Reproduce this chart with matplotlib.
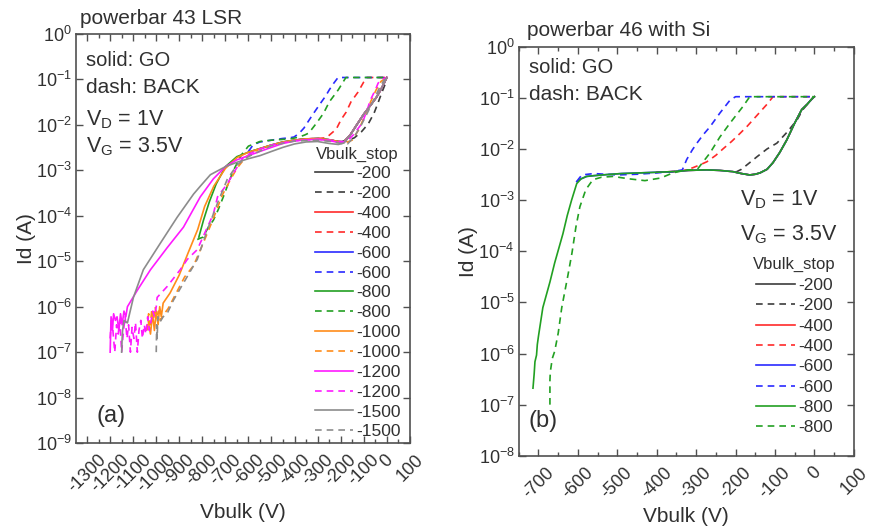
import numpy as np
import matplotlib
matplotlib.use('Agg')
import matplotlib.pyplot as plt
from matplotlib.ticker import MultipleLocator, NullLocator, LogLocator

plt.rcParams['font.family'] = ['Liberation Sans', 'DejaVu Sans']
plt.rcParams['axes.unicode_minus'] = False

# ---------------- colours -----------------
c_blk = '#3c3c3c'
c_red = '#ff2a2a'
c_blu = '#2a2aff'
c_grn = '#22a022'
c_org = '#ff8c1a'
c_mag = '#ff1aff'
c_gry = '#8c8c8c'

# ================= panel (a): powerbar 43 LSR =================
a_blk_go_v = [0, -10, -25, -45, -70, -100, -130, -160, -185, -200]
a_blk_go_i = [0.11, 0.085, 0.06, 0.04, 0.027, 0.017, 0.01, 0.0058, 0.0044, 0.0042]
a_blk_bk_v = [-200, -170, -140, -110, -80, -55, -38, -22, -8, 0]
a_blk_bk_i = [0.0042, 0.0045, 0.0052, 0.007, 0.0105, 0.018, 0.03, 0.05, 0.075, 0.11]

a_red_go_v = [0, -10, -25, -45, -70, -100, -130, -160, -185, -210, -250, -300, -350, -400]
a_red_go_i = [0.11, 0.085, 0.06, 0.04, 0.027, 0.017, 0.01, 0.0058, 0.0042, 0.0043, 0.0047, 0.005, 0.0049, 0.0046]
a_red_bk_v = [-400, -350, -300, -262, -240, -219, -198, -176, -155, -125, -100, -85, 0]
a_red_bk_i = [0.0046, 0.0049, 0.005, 0.0052, 0.0065, 0.008, 0.013, 0.019, 0.032, 0.052, 0.087, 0.11, 0.11]

a_blu_go_v = [0, -10, -25, -45, -70, -100, -130, -160, -185, -210, -250, -300, -350, -400, -450, -500, -550, -600]
a_blu_go_i = [0.11, 0.085, 0.06, 0.04, 0.027, 0.017, 0.01, 0.0058, 0.0042, 0.0043, 0.0047, 0.005, 0.0049, 0.0046, 0.0042, 0.0036, 0.003, 0.0025]
a_blu_bk_v = [-600, -580, -550, -500, -453, -420, -402, -380, -359, -340, -317, -300, -283, -265, -249, -230, -211, -100, 0]
a_blu_bk_i = [0.0026, 0.0036, 0.0042, 0.0046, 0.005, 0.0052, 0.0054, 0.0065, 0.0085, 0.012, 0.018, 0.024, 0.032, 0.043, 0.059, 0.082, 0.11, 0.11, 0.11]

a_grn_go_v = [0, -10, -25, -45, -70, -100, -130, -160, -185, -210, -250, -300, -350, -400, -450, -500, -550, -600, -650, -700, -740, -770, -795, -815]
a_grn_go_i = [0.11, 0.085, 0.06, 0.04, 0.027, 0.017, 0.01, 0.0058, 0.0042, 0.0043, 0.0047, 0.005, 0.0049, 0.0046, 0.0042, 0.0036, 0.003, 0.0025, 0.002, 0.0012, 5e-4, 2e-4, 8e-5, 3.4e-5]
a_grn_bk_v = [-822, -810, -796, -775, -752, -730, -709, -685, -665, -630, -600, -550, -500, -450, -410, -380, -355, -338, -304, -274, -249, -210, -177, -100, 0]
a_grn_bk_i = [3e-5, 3.2e-5, 3.4e-5, 5.5e-5, 8e-5, 1.4e-4, 2.6e-4, 5.5e-4, 1e-3, 2.2e-3, 3.4e-3, 4.3e-3, 4.6e-3, 4.8e-3, 5e-3, 5.4e-3, 6e-3, 6.6e-3, 0.011, 0.018, 0.032, 0.059, 0.11, 0.11, 0.11]

a_org_go_v = [0, -10, -25, -45, -70, -100, -130, -160, -185, -210, -250, -300, -350, -400, -450, -500, -550, -600, -650, -700, -750, -790, -820, -860, -900, -940, -970,
              -978, -985, -992, -1000, -1008, -1016, -1025, -1035]
a_org_go_i = [0.11, 0.085, 0.06, 0.04, 0.027, 0.017, 0.01, 0.0058, 0.0042, 0.0043, 0.0047, 0.005, 0.0049, 0.0046, 0.0042, 0.0036, 0.003, 0.0025, 0.0019, 0.0011, 4.5e-4, 1.6e-4, 5e-5, 1.6e-5, 5e-6, 2e-6, 1.2e-6,
              6e-7, 1e-6, 4e-7, 8e-7, 3e-7, 7e-7, 2.5e-7, 5e-7]
a_org_bk_v = [-1040, -1033, -1026, -1019, -1012, -1005, -998, -990, -982, -965, -949, -918, -877, -838, -796, -755, -714, -680, -650, -610, -560, -500, -450, -400, -350,
              -300, -250, -210, -180, -150, -120, -95, -70, -45, -25, 0]
a_org_bk_i = [3e-7, 7e-7, 4e-7, 9e-7, 5e-7, 1e-6, 6e-7, 8e-7, 5e-7, 7e-7, 9e-7, 1.8e-6, 4.5e-6, 8e-6, 2.5e-5, 8e-5, 2.8e-4, 6e-4, 1.1e-3, 2e-3, 2.8e-3, 3.5e-3, 4e-3, 4.5e-3, 4.8e-3,
              4.9e-3, 4.6e-3, 4.2e-3, 4e-3, 4.6e-3, 8e-3, 0.016, 0.032, 0.06, 0.09, 0.11]

a_mag_go_v = [0, -10, -25, -45, -70, -100, -130, -160, -185, -210, -250, -300, -350, -400, -450, -500, -550, -600, -650, -700, -752, -809, -882, -952, -1025, -1082, -1125,
              -1132, -1140, -1148, -1155, -1162, -1170, -1177, -1185, -1190, -1196, -1200]
a_mag_go_i = [0.11, 0.085, 0.06, 0.04, 0.027, 0.017, 0.01, 0.0058, 0.0041, 0.0041, 0.0045, 0.0048, 0.0047, 0.0044, 0.0039, 0.0032, 0.0026, 0.0021, 0.0017, 0.0012, 6.5e-4, 2.6e-4, 5.6e-5, 2e-5, 6.5e-6, 2.3e-6, 1e-6,
              6e-7, 8e-7, 4e-7, 7e-7, 3e-7, 6e-7, 5e-7, 7e-7, 3e-7, 6e-7, 1e-7]
a_mag_bk_v = [-1200, -1194, -1188, -1180, -1172, -1165, -1158, -1150, -1142, -1135, -1127, -1120, -1112, -1105, -1097, -1090, -1082, -1075, -1067, -1060, -1052, -1045,
              -1037, -1030, -1022, -1015, -1008, -1000, -996, -952, -896, -865, -822, -778, -752, -734, -692, -665, -620, -560, -500, -400, -300, -250, -200, -175,
              -145, -106, -85, -71, -49, -37, -20, 0]
a_mag_bk_i = [2e-7, 6e-7, 3e-7, 1e-7, 4e-7, 2.5e-7, 5e-7, 1e-7, 3e-7, 6e-7, 2e-7, 4e-7, 1e-7, 3.5e-7, 2e-7, 4.5e-7, 1e-7, 3e-7, 5e-7, 2e-7, 4e-7, 2.5e-7,
              6e-7, 3e-7, 5e-7, 8e-7, 6e-7, 1e-6, 1.6e-6, 2.8e-6, 6.5e-6, 1.1e-5, 1.8e-5, 5.6e-5, 1.1e-4, 2.6e-4, 5e-4, 8.7e-4, 2e-3, 2.8e-3, 3.6e-3, 4.5e-3, 4.8e-3, 4.6e-3, 4.3e-3, 4.2e-3,
              6e-3, 0.011, 0.021, 0.035, 0.059, 0.083, 0.1, 0.11]

a_gry_go_v = [0, -10, -25, -45, -70, -100, -130, -160, -185, -210, -250, -300, -350, -400, -450, -500, -550, -600, -650, -700, -765, -810, -838, -909, -982, -1056, -1099, -1125,
              -1140, -1146, -1148, -1150]
a_gry_go_i = [0.11, 0.085, 0.06, 0.04, 0.027, 0.017, 0.01, 0.0058, 0.004, 0.0037, 0.0039, 0.0043, 0.0042, 0.0038, 0.0032, 0.0026, 0.0021, 0.0018, 0.0015, 0.0012, 8e-4, 4.4e-4, 3e-4, 9.3e-5, 2.5e-5, 6.5e-6, 1.6e-6, 4.4e-7,
              5e-7, 3e-7, 2e-7, 1e-7]
a_gry_bk_v = [-1000, -998, -996, -993, -985, -970, -952, -925, -882, -822, -778, -734, -692, -650, -600, -500, -400, -300, -240, -200, -170, -140, -110, -80, -55, -35, -15, 0]
a_gry_bk_i = [1e-7, 4e-7, 2e-7, 6e-7, 4.5e-7, 6e-7, 7.2e-7, 1.4e-6, 3.3e-6, 1.1e-5, 4.9e-5, 1.9e-4, 6.3e-4, 1.3e-3, 2e-3, 3.5e-3, 4.4e-3, 4.6e-3, 4.3e-3, 3.9e-3, 3.8e-3, 5.5e-3, 0.01, 0.02, 0.036, 0.06, 0.09, 0.11]

a_stops = ['-200', '-400', '-600', '-800', '-1000', '-1200', '-1500']
a_xticks = [-1300, -1200, -1100, -1000, -900, -800, -700, -600, -500, -400, -300, -200, -100, 0, 100]

# ================= panel (b): powerbar 46 with Si =================
b_blk_go_v = [0, -4, -18, -32, -50, -70, -88, -105, -120, -138, -150, -164, -185, -200]
b_blk_go_i = [0.105, 0.1, 0.075, 0.059, 0.032, 0.015, 0.0085, 0.0054, 0.004, 0.0034, 0.0032, 0.0031, 0.0033, 0.0035]
b_blk_bk_v = [-200, -185, -164, -146, -120, -95, -70, -44, -29, -15, 0]
b_blk_bk_i = [0.0035, 0.004, 0.0054, 0.007, 0.01, 0.013, 0.021, 0.037, 0.059, 0.08, 0.105]

b_red_go_v = [0, -4, -18, -32, -50, -70, -88, -105, -120, -138, -150, -164, -185, -207, -240, -273, -320, -359, -400]
b_red_go_i = [0.105, 0.1, 0.075, 0.059, 0.032, 0.015, 0.0085, 0.0054, 0.004, 0.0034, 0.0032, 0.0031, 0.0033, 0.0036, 0.0038, 0.0039, 0.0038, 0.0036, 0.0035]
b_red_bk_v = [-400, -359, -330, -308, -290, -273, -250, -232, -210, -189, -170, -146, -120, -105, 0]
b_red_bk_i = [0.0035, 0.0036, 0.0038, 0.0043, 0.0049, 0.0056, 0.0075, 0.01, 0.014, 0.02, 0.028, 0.045, 0.075, 0.105, 0.105]

b_blu_go_v = [0, -4, -18, -32, -50, -70, -88, -105, -120, -138, -150, -164, -185, -207, -240, -273, -320, -359, -400, -443, -490, -527, -560, -578, -592, -603]
b_blu_go_i = [0.105, 0.1, 0.075, 0.059, 0.032, 0.015, 0.0085, 0.0054, 0.004, 0.0034, 0.0032, 0.0031, 0.0033, 0.0036, 0.0038, 0.0039, 0.0038, 0.0036, 0.0035,
              0.0034, 0.0033, 0.00315, 0.003, 0.0029, 0.0026, 0.0023]
b_blu_bk_v = [-603, -598, -590, -560, -500, -450, -400, -359, -335, -324, -310, -298, -282, -265, -240, -214, -200, -100, 0]
b_blu_bk_i = [0.0023, 0.0026, 0.0031, 0.0033, 0.0031, 0.0032, 0.0034, 0.0036, 0.0039, 0.0062, 0.0095, 0.013, 0.019, 0.027, 0.05, 0.09, 0.105, 0.105, 0.105]

b_grn_go_v = [0, -4, -18, -32, -50, -70, -88, -105, -120, -138, -150, -164, -185, -207, -240, -273, -320, -359, -400, -443, -490, -527, -560, -578, -592, -603,
              -616, -627, -638, -659, -671, -689, -700, -703, -705, -709, -711, -714]
b_grn_go_i = [0.105, 0.1, 0.075, 0.059, 0.032, 0.015, 0.0085, 0.0054, 0.004, 0.0034, 0.0032, 0.0031, 0.0033, 0.0036, 0.0038, 0.0039, 0.0038, 0.0036, 0.0035,
              0.0034, 0.0033, 0.00315, 0.003, 0.0029, 0.0026, 0.0021, 1e-3, 5e-4, 2.2e-4, 5.9e-5, 2.5e-5, 7.9e-6, 2.2e-6, 1.5e-6, 9.3e-7, 6.9e-7, 4e-7, 2.1e-7]
b_grn_bk_v = [-671, -671, -670, -665, -659, -650, -641, -625, -615, -605, -595, -580, -562, -540, -511, -470, -430, -390, -359, -324, -298, -265, -240, -214, -181, -164, -100, 0]
b_grn_bk_i = [1e-7, 3e-7, 4.4e-7, 8e-7, 1.1e-6, 2.5e-6, 7.9e-6, 3.5e-5, 9.3e-5, 3e-4, 7.4e-4, 1.6e-3, 2.5e-3, 2.8e-3, 2.9e-3, 2.6e-3, 2.4e-3, 2.7e-3, 3.4e-3, 3.9e-3, 3.9e-3,
              8.3e-3, 0.017, 0.032, 0.068, 0.105, 0.105, 0.105]

b_stops = ['-200', '-400', '-600', '-800']
b_xticks = [-700, -600, -500, -400, -300, -200, -100, 0, 100]

dash = (0, (4, 3))

fig = plt.figure(figsize=(8.69, 5.30), dpi=100)
ax1 = fig.add_axes([0.0875, 0.164, 0.384, 0.772])
ax2 = fig.add_axes([0.597, 0.140, 0.3855, 0.772])

a_series = [
    (a_blk_go_v, a_blk_go_i, a_blk_bk_v, a_blk_bk_i, c_blk),
    (a_red_go_v, a_red_go_i, a_red_bk_v, a_red_bk_i, c_red),
    (a_blu_go_v, a_blu_go_i, a_blu_bk_v, a_blu_bk_i, c_blu),
    (a_grn_go_v, a_grn_go_i, a_grn_bk_v, a_grn_bk_i, c_grn),
    (a_org_go_v, a_org_go_i, a_org_bk_v, a_org_bk_i, c_org),
    (a_mag_go_v, a_mag_go_i, a_mag_bk_v, a_mag_bk_i, c_mag),
    (a_gry_go_v, a_gry_go_i, a_gry_bk_v, a_gry_bk_i, c_gry),
]
b_series = [
    (b_blk_go_v, b_blk_go_i, b_blk_bk_v, b_blk_bk_i, c_blk),
    (b_red_go_v, b_red_go_i, b_red_bk_v, b_red_bk_i, c_red),
    (b_blu_go_v, b_blu_go_i, b_blu_bk_v, b_blu_bk_i, c_blu),
    (b_grn_go_v, b_grn_go_i, b_grn_bk_v, b_grn_bk_i, c_grn),
]

for ax, series, stops in [(ax1, a_series, a_stops), (ax2, b_series, b_stops)]:
    for (gv, gi, bv, bi, c), lab in zip(series, stops):
        ax.plot(gv, gi, color=c, lw=1.2, label=lab)
        ax.plot(bv, bi, color=c, lw=1.2, ls=dash, label=lab)

tc = '#303030'
# axes styling
for ax in [ax1, ax2]:
    ax.set_yscale('log')
    ax.yaxis.set_major_locator(LogLocator(base=10, numticks=15))
    ax.yaxis.set_minor_locator(NullLocator())
    ax.xaxis.set_minor_locator(MultipleLocator(50))
    ax.tick_params(which='both', direction='in', top=True, right=True, colors='#505050', labelcolor=tc)
    ax.tick_params(which='major', length=5, width=1.0)
    ax.tick_params(which='minor', length=3, width=1.0)
    ax.tick_params(axis='y', labelsize=13, pad=3)
    ax.tick_params(axis='x', labelsize=13, pad=6)
    for s in ax.spines.values():
        s.set_color('#505050')
        s.set_linewidth(1.2)
    ax.set_ylabel('Id (A)', fontsize=15, color=tc, labelpad=0)

ax1.set_xlabel('Vbulk (V)', fontsize=15, color=tc, labelpad=5)
ax2.set_xlabel('Vbulk (V)', fontsize=15, color=tc, labelpad=4)

ax1.set_xlim(-1348, 100)
ax1.set_ylim(1e-9, 1)
ax1.set_xticks(a_xticks)
ax1.set_xticklabels([str(t) for t in a_xticks], rotation=45, ha='center')

ax2.set_xlim(-750, 100)
ax2.set_ylim(1e-8, 1)
ax2.set_xticks(b_xticks)
ax2.set_xticklabels([str(t) for t in b_xticks], rotation=45, ha='center')

# texts panel (a)
fig.text(0.092, 0.966, 'powerbar 43 LSR', fontsize=15, color=tc, va='center')
ax1.text(0.03, 0.935, 'solid: GO', transform=ax1.transAxes, fontsize=14.5, color=tc, va='center')
ax1.text(0.03, 0.868, 'dash: BACK', transform=ax1.transAxes, fontsize=15, color=tc, va='center')
ax1.text(0.03, 0.79, r'V$_\mathregular{D}$ = 1V', transform=ax1.transAxes, fontsize=15.5, color=tc, va='center')
ax1.text(0.03, 0.725, r'V$_\mathregular{G}$ = 3.5V', transform=ax1.transAxes, fontsize=15.5, color=tc, va='center')
ax1.text(0.06, 0.065, '(a)', transform=ax1.transAxes, fontsize=17, color=tc, va='center')

# texts panel (b)
fig.text(0.606, 0.943, 'powerbar 46 with Si', fontsize=15, color=tc, va='center')
ax2.text(0.03, 0.948, 'solid: GO', transform=ax2.transAxes, fontsize=14.5, color=tc, va='center')
ax2.text(0.03, 0.882, 'dash: BACK', transform=ax2.transAxes, fontsize=15, color=tc, va='center')
ax2.text(0.66, 0.625, r'V$_\mathregular{D}$ = 1V', transform=ax2.transAxes, fontsize=15.5, color=tc, va='center')
ax2.text(0.66, 0.54, r'V$_\mathregular{G}$ = 3.5V', transform=ax2.transAxes, fontsize=15.5, color=tc, va='center')
ax2.text(0.03, 0.085, '(b)', transform=ax2.transAxes, fontsize=17, color=tc, va='center')

leg1 = ax1.legend(loc='upper left', bbox_to_anchor=(0.715, 0.725), frameon=False, fontsize=12.5,
                  title='Vbulk_stop', title_fontsize=12, handlelength=2.2, handletextpad=0.2,
                  labelspacing=0.27, borderpad=0, borderaxespad=0)
leg2 = ax2.legend(loc='upper left', bbox_to_anchor=(0.70, 0.485), frameon=False, fontsize=12.5,
                  title='Vbulk_stop', title_fontsize=12, handlelength=2.2, handletextpad=0.2,
                  labelspacing=0.30, borderpad=0, borderaxespad=0)
for leg in [leg1, leg2]:
    for t in leg.get_texts():
        t.set_color(tc)
    leg.get_title().set_color(tc)

fig.savefig('out.png', dpi=100)
